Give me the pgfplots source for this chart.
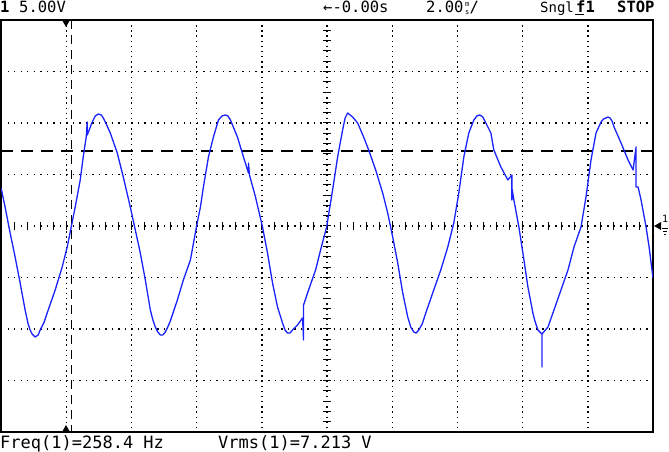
\documentclass[border=0pt]{standalone}
\usepackage{fontspec}
\setmainfont{DejaVu Sans Mono}
\usepackage{pgfplots}
\pgfplotsset{compat=1.18}
\definecolor{trace}{RGB}{25,35,250}
\begin{document}
\begin{tikzpicture}[x=1pt,y=1pt]
\useasboundingbox (0,0) rectangle (669,452);
\fill[white] (0,0) rectangle (669,452);
% grid (dotted)
\foreach \i in {1,...,9} \draw[black, line width=1.4pt, dash pattern=on 1.4pt off 3.75pt] ({1+65.2*\i},432) -- ({1+65.2*\i},20);
\foreach \j in {1,...,7} \draw[black, line width=1.4pt, dash pattern=on 1.4pt off 5.12pt] (1,{20+51.5*\j}) -- (653,{20+51.5*\j});
% centre lines with minor ticks
\foreach \k in {1,...,49} \draw[black, line width=1pt] ({1+13.04*\k},222) -- ({1+13.04*\k},230);
\foreach \k in {1,...,39} \draw[black, line width=1pt] (323,{20+10.3*\k}) -- (331,{20+10.3*\k});
\begin{axis}[
  at={(1pt,20pt)}, anchor=south west,
  width=652pt, height=412pt, scale only axis,
  xmin=-2, xmax=18, ymin=-20, ymax=20,
  xtick=\empty, ytick=\empty,
  axis line style={black, line width=1.2pt},
  clip=true,
]
% cursors
\draw[black, line width=1.3pt, dash pattern=on 12pt off 8pt] (axis cs:-2,7.28) -- (axis cs:18,7.28);
\draw[black, line width=1.3pt, dash pattern=on 9pt off 6pt] (axis cs:0.154,20) -- (axis cs:0.154,-20);
\addplot[trace, line width=1.3pt, line join=round] table {
t V
-1.997 3.69
-1.874 1.84
-1.720 -0.68
-1.567 -3.01
-1.413 -5.53
-1.260 -8.16
-1.167 -9.51
-1.106 -10.10
-1.045 -10.49
-0.952 -10.78
-0.860 -10.58
-0.799 -10.10
-0.676 -9.32
-0.584 -8.45
-0.338 -6.21
-0.123 -3.98
0.031 -2.04
0.154 -0.10
0.276 1.84
0.430 4.47
0.522 6.70
0.614 8.64
0.645 10.10
0.645 8.83
0.799 10.10
0.891 10.68
0.983 10.87
1.075 10.78
1.137 10.49
1.229 9.90
1.352 9.03
1.567 7.09
1.751 4.76
1.966 1.84
2.120 -0.39
2.273 -2.62
2.427 -5.24
2.581 -8.16
2.658 -9.12
2.734 -9.81
2.811 -10.29
2.888 -10.58
2.965 -10.58
3.041 -10.29
3.103 -9.90
3.195 -9.22
3.410 -7.18
3.594 -5.24
3.810 -3.30
3.994 -0.10
4.117 1.84
4.209 3.79
4.363 6.70
4.516 8.64
4.670 10.29
4.778 10.68
4.885 10.78
4.962 10.68
5.038 10.29
5.253 8.64
5.438 6.70
5.591 5.15
5.591 6.12
5.622 4.95
5.806 2.82
6.022 -0.10
6.175 -2.62
6.329 -5.53
6.482 -7.86
6.636 -9.42
6.713 -10.10
6.790 -10.39
6.866 -10.39
6.943 -10.10
7.097 -9.61
7.250 -8.93
7.281 -11.07
7.281 -7.67
7.435 -6.21
7.650 -4.27
7.803 -2.33
7.988 -0.10
8.172 3.50
8.326 6.70
8.479 9.32
8.556 10.49
8.633 10.97
8.786 10.58
8.940 10.00
9.124 8.64
9.278 7.38
9.493 5.44
9.708 3.20
9.862 1.26
10.015 -1.07
10.169 -3.59
10.323 -6.50
10.476 -8.83
10.569 -9.81
10.661 -10.29
10.737 -10.39
10.814 -10.10
10.921 -9.51
11.029 -8.45
11.275 -6.21
11.490 -4.27
11.705 -2.04
11.889 0.29
12.043 3.20
12.197 6.70
12.350 9.03
12.504 10.29
12.596 10.68
12.688 10.78
12.780 10.58
12.873 10.00
13.026 9.03
13.118 7.38
13.333 5.73
13.548 4.47
13.671 4.95
13.671 2.52
13.671 3.69
13.733 2.52
13.886 -0.10
14.009 -2.62
14.163 -5.92
14.316 -8.45
14.377 -9.22
14.470 -10.10
14.593 -10.49
14.593 -13.69
14.593 -10.49
14.777 -9.81
14.962 -8.16
15.177 -6.21
15.392 -4.27
15.576 -2.04
15.791 -0.10
15.945 2.82
16.098 6.41
16.252 9.03
16.406 10.10
16.483 10.39
16.559 10.49
16.620 10.58
16.682 10.49
16.743 10.19
16.805 9.61
17.020 8.06
17.235 6.41
17.389 5.44
17.481 7.67
17.481 3.79
17.542 3.79
17.634 2.52
17.788 -0.10
17.880 -2.04
18.000 -5.05
};
\end{axis}
% trigger markers
\fill[black] (62,432) -- (70,432) -- (66,425) -- cycle;
\fill[black] (62,20) -- (70,20) -- (66,27) -- cycle;
% channel marker at right
\fill[black] (654,226) -- (661,230) -- (661,222) -- cycle;
\node[anchor=base west, inner sep=0pt, font=\fontsize{10}{10}\selectfont] at (662,229) {1};
\draw[black, line width=0.8pt] (662,224) -- (668,224) (663,221) -- (667,221) (664,218) -- (666,218);
% header texts
\node[anchor=base west, inner sep=0pt, font=\fontsize{15.5}{16}\selectfont\bfseries] at (0,439) {1};
\node[anchor=base west, inner sep=0pt, font=\fontsize{15.5}{16}\selectfont] at (19,439) {5.00V};
\node[anchor=base west, inner sep=0pt, font=\fontsize{15.5}{16}\selectfont] at (323,439) {←-0.00s};
\node[anchor=base west, inner sep=0pt, font=\fontsize{15.5}{16}\selectfont] at (426,439) {2.00\kern1.5pt\raisebox{-1.5pt}{\fontsize{7}{6}\selectfont\shortstack{m\\[1.2pt]s}}\kern0.5pt/};
\node[anchor=base west, inner sep=0pt, font=\fontsize{14}{16}\selectfont] at (540,439) {Sngl};
\node[anchor=base west, inner sep=0pt, font=\fontsize{15.5}{16}\selectfont\bfseries] at (576,439) {f1};
\draw[black, line width=1pt] (575,437) -- (584,437);
\node[anchor=base west, inner sep=0pt, font=\fontsize{15.5}{16}\selectfont\bfseries] at (617,439) {STOP};
% footer texts
\node[anchor=base west, inner sep=0pt, font=\fontsize{17}{18}\selectfont] at (0,3) {Freq(1)=258.4 Hz};
\node[anchor=base west, inner sep=0pt, font=\fontsize{17}{18}\selectfont] at (218,3) {Vrms(1)=7.213 V};
\end{tikzpicture}
\end{document}
